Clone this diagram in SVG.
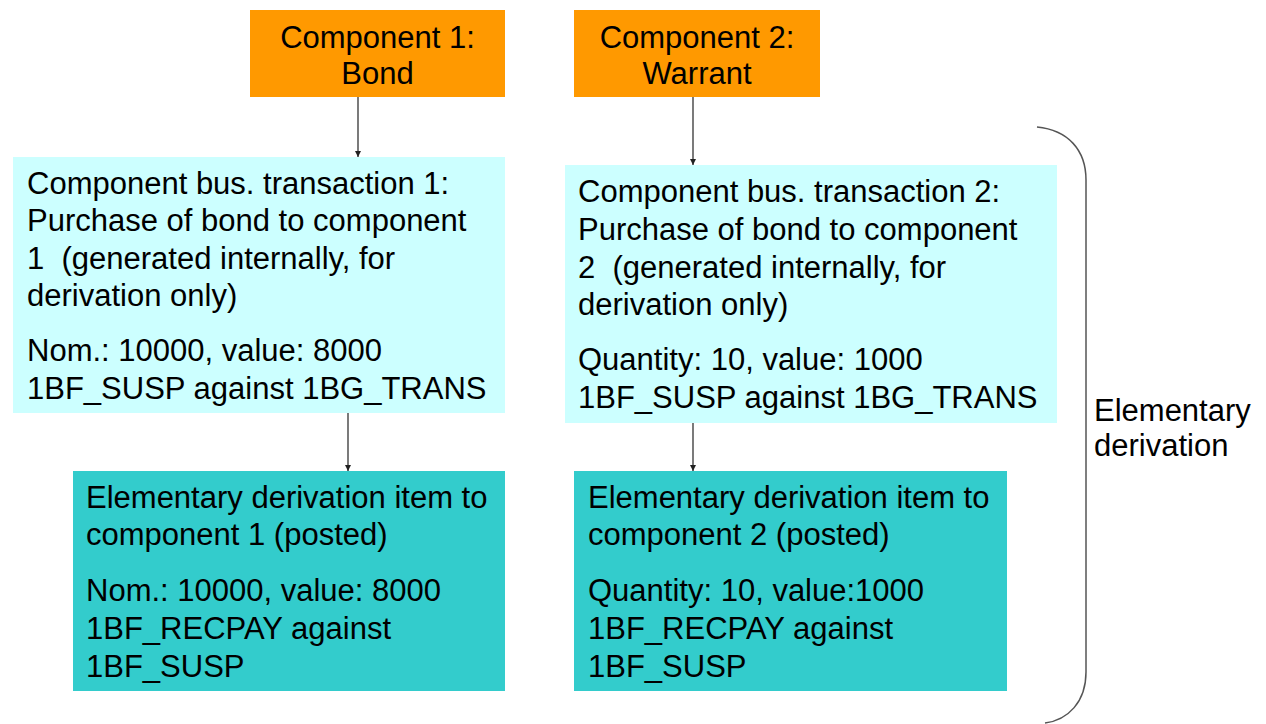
<svg xmlns="http://www.w3.org/2000/svg" width="1266" height="724" viewBox="0 0 1266 724">
<defs>
<style>
text{font-family:"Liberation Sans",Arial,sans-serif;font-size:31px;fill:#000}
.c{text-anchor:middle}
.orange{fill:#FF9900}
.light{fill:#CCFFFF}
.teal{fill:#33CCCC}
.conn{stroke:#222;stroke-width:1.2;fill:none}
</style>
<marker id="ah" viewBox="0 0 10 10" refX="10" refY="5" markerWidth="6" markerHeight="7" markerUnits="userSpaceOnUse" orient="auto">
<path d="M0,0 L10,5 L0,10 z" fill="#222"/>
</marker>
</defs>
<rect width="1266" height="724" fill="#fff"/>
<g id="comp1">
<rect class="orange" x="250" y="10" width="255" height="87"/>
<text class="c" x="377.5" y="48">Component 1:</text>
<text class="c" x="377.5" y="84">Bond</text>
</g>
<g id="comp2">
<rect class="orange" x="574" y="10" width="246" height="87"/>
<text class="c" x="697" y="48">Component 2:</text>
<text class="c" x="697" y="84">Warrant</text>
</g>
<g id="trans1">
<rect class="light" x="13" y="157" width="492" height="256"/>
<text x="27" y="194">Component bus. transaction 1:</text>
<text x="27" y="231">Purchase of bond to component</text>
<text x="27" y="269">1&#160; (generated internally, for</text>
<text x="27" y="306">derivation only)</text>
<text x="27" y="361">Nom.: 10000, value: 8000</text>
<text x="27" y="399">1BF_SUSP against 1BG_TRANS</text>
</g>
<g id="trans2">
<rect class="light" x="565" y="165" width="492" height="258"/>
<text x="578" y="202">Component bus. transaction 2:</text>
<text x="578" y="240">Purchase of bond to component</text>
<text x="578" y="278">2&#160; (generated internally, for</text>
<text x="578" y="315">derivation only)</text>
<text x="578" y="370">Quantity: 10, value: 1000</text>
<text x="578" y="408">1BF_SUSP against 1BG_TRANS</text>
</g>
<g id="item1">
<rect class="teal" x="73" y="471" width="432" height="220"/>
<text x="86" y="508">Elementary derivation item to</text>
<text x="86" y="545">component 1 (posted)</text>
<text x="86" y="601">Nom.: 10000, value: 8000</text>
<text x="86" y="639">1BF_RECPAY against</text>
<text x="86" y="677">1BF_SUSP</text>
</g>
<g id="item2">
<rect class="teal" x="574" y="471" width="433" height="220"/>
<text x="588" y="508">Elementary derivation item to</text>
<text x="588" y="545">component 2 (posted)</text>
<text x="588" y="601">Quantity: 10, value:1000</text>
<text x="588" y="639">1BF_RECPAY against</text>
<text x="588" y="677">1BF_SUSP</text>
</g>
<g id="bracket">
<path d="M1037,127 C1068,130 1086,150 1086,180 L1086,672 C1086,702 1068,720 1045,723" fill="none" stroke="#555" stroke-width="1.5"/>
<text x="1094" y="421">Elementary</text>
<text x="1094" y="456">derivation</text>
</g>
<g id="connectors">
<line class="conn" x1="358" y1="97" x2="358" y2="157" marker-end="url(#ah)"/>
<line class="conn" x1="693" y1="97" x2="693" y2="165" marker-end="url(#ah)"/>
<line class="conn" x1="348" y1="413" x2="348" y2="471" marker-end="url(#ah)"/>
<line class="conn" x1="693" y1="423" x2="693" y2="471" marker-end="url(#ah)"/>
</g>
</svg>
